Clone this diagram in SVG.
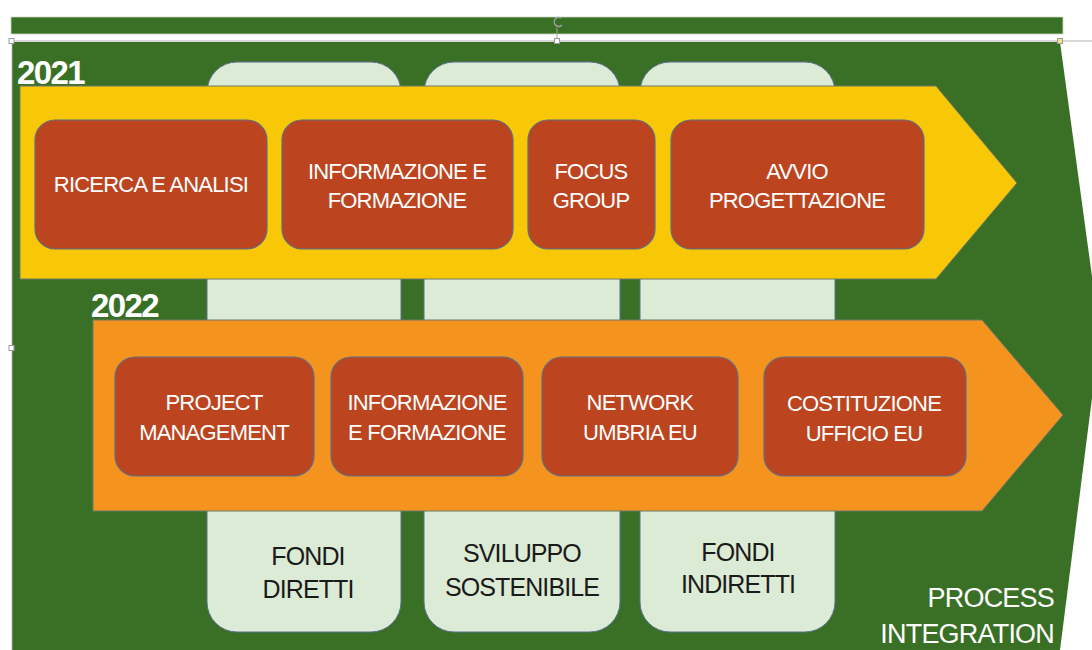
<svg xmlns="http://www.w3.org/2000/svg" width="1092" height="650" viewBox="0 0 1092 650">
<style>
.bg{fill:#3a7026}
.col{fill:#dcebd6;stroke:#5b7190;stroke-width:1}
.box{fill:#bc4520;stroke:#5f6e86;stroke-width:1.2}
.wt{font-family:"Liberation Sans",Arial,sans-serif;font-size:22px;fill:#ffffff;text-anchor:middle;letter-spacing:-0.8px}
.dk{font-family:"Liberation Sans",Arial,sans-serif;font-size:25px;fill:#1a1a1a;text-anchor:middle;letter-spacing:-0.9px}
.yr{font-family:"Liberation Sans",Arial,sans-serif;font-size:33px;font-weight:bold;fill:#ffffff;letter-spacing:-1.6px}
.pi{font-family:"Liberation Sans",Arial,sans-serif;font-size:27px;fill:#ffffff;text-anchor:end;letter-spacing:-0.8px}
.hd{fill:#ffffff;stroke:#9a9a9a;stroke-width:1}
</style>
<rect width="1092" height="650" fill="#ffffff"/>
<g id="background">
<rect x="11" y="17" width="1052" height="17" class="bg" stroke="#c8d8c0" stroke-width="0.8"/>
<polygon points="12,42 1060,42 1100,335 1060,650 12,650" class="bg"/>
</g>
<g id="selection">
<line x1="11" y1="41" x2="1092" y2="41" stroke="#b0b0b0" stroke-width="1.2"/>
<line x1="12" y1="41" x2="12" y2="650" stroke="#b0b0b0" stroke-width="0.8"/>
<line x1="557" y1="28" x2="557" y2="41" stroke="#a0a0a0" stroke-width="1"/>
<path d="M561,18 A4.5,4.5 0 1 0 562,25" fill="none" stroke="#a0a0a0" stroke-width="1.5"/>
<rect x="9" y="38.5" width="5" height="5" class="hd"/>
<rect x="554.5" y="38.5" width="5" height="5" class="hd"/>
<rect x="1057.5" y="38.5" width="5" height="5" fill="#f4e28a" stroke="#9a9a9a"/>
<rect x="9" y="345.5" width="5" height="5" class="hd"/>
</g>
<g id="col-fondi-diretti">
<path d="M237,62 H371 A30,30 0 0 1 401,92 V602 A30,30 0 0 1 371,632 H237 A30,30 0 0 1 207,602 V92 A30,30 0 0 1 237,62 Z" class="col"/>
<text class="dk" x="308" y="565">FONDI</text>
<text class="dk" x="308" y="598">DIRETTI</text>
</g>
<g id="col-sviluppo-sostenibile">
<path d="M454,62 H590 A30,30 0 0 1 620,92 V602 A30,30 0 0 1 590,632 H454 A30,30 0 0 1 424,602 V92 A30,30 0 0 1 454,62 Z" class="col"/>
<text class="dk" x="522" y="562">SVILUPPO</text>
<text class="dk" x="522" y="596">SOSTENIBILE</text>
</g>
<g id="col-fondi-indiretti">
<path d="M670,62 H805 A30,30 0 0 1 835,92 V602 A30,30 0 0 1 805,632 H670 A30,30 0 0 1 640,602 V92 A30,30 0 0 1 670,62 Z" class="col"/>
<text class="dk" x="738" y="561">FONDI</text>
<text class="dk" x="738" y="593">INDIRETTI</text>
</g>
<g id="arrow-2021">
<polygon points="20,86 936,86 1017,183 936,279 20,279" fill="#f8c705" stroke="#6b7a6a" stroke-width="1"/>
<text class="yr" x="17" y="84">2021</text>
</g>
<g id="arrow-2022">
<polygon points="93,320 982,320 1063,415 982,511 93,511" fill="#f4931d" stroke="#6b7a6a" stroke-width="1"/>
<text class="yr" x="91" y="317">2022</text>
</g>
<g id="ricerca-e-analisi">
<rect x="35" y="120" width="232" height="129" rx="20" class="box"/>
<text class="wt" x="151" y="192">RICERCA E ANALISI</text>
</g>
<g id="informazione-e-formazione-2021">
<rect x="282" y="120" width="231" height="129" rx="20" class="box"/>
<text class="wt" x="397" y="179">INFORMAZIONE E</text>
<text class="wt" x="397" y="208">FORMAZIONE</text>
</g>
<g id="focus-group">
<rect x="528" y="120" width="127" height="129" rx="20" class="box"/>
<text class="wt" x="591" y="179">FOCUS</text>
<text class="wt" x="591" y="208">GROUP</text>
</g>
<g id="avvio-progettazione">
<rect x="671" y="120" width="253" height="129" rx="20" class="box"/>
<text class="wt" x="797" y="179">AVVIO</text>
<text class="wt" x="797" y="208">PROGETTAZIONE</text>
</g>
<g id="project-management">
<rect x="115" y="357" width="199" height="119" rx="20" class="box"/>
<text class="wt" x="214" y="410">PROJECT</text>
<text class="wt" x="214" y="440">MANAGEMENT</text>
</g>
<g id="informazione-e-formazione-2022">
<rect x="331" y="357" width="192" height="119" rx="20" class="box"/>
<text class="wt" x="427" y="410">INFORMAZIONE</text>
<text class="wt" x="427" y="440">E FORMAZIONE</text>
</g>
<g id="network-umbria-eu">
<rect x="542" y="357" width="196" height="119" rx="20" class="box"/>
<text class="wt" x="640" y="410">NETWORK</text>
<text class="wt" x="640" y="440">UMBRIA EU</text>
</g>
<g id="costituzione-ufficio-eu">
<rect x="764" y="357" width="202" height="119" rx="20" class="box"/>
<text class="wt" x="864" y="411">COSTITUZIONE</text>
<text class="wt" x="864" y="441">UFFICIO EU</text>
</g>
<g id="process-integration">
<text class="pi" x="1054" y="607">PROCESS</text>
<text class="pi" x="1054" y="643">INTEGRATION</text>
</g>
<g id="connectors"></g>
</svg>
